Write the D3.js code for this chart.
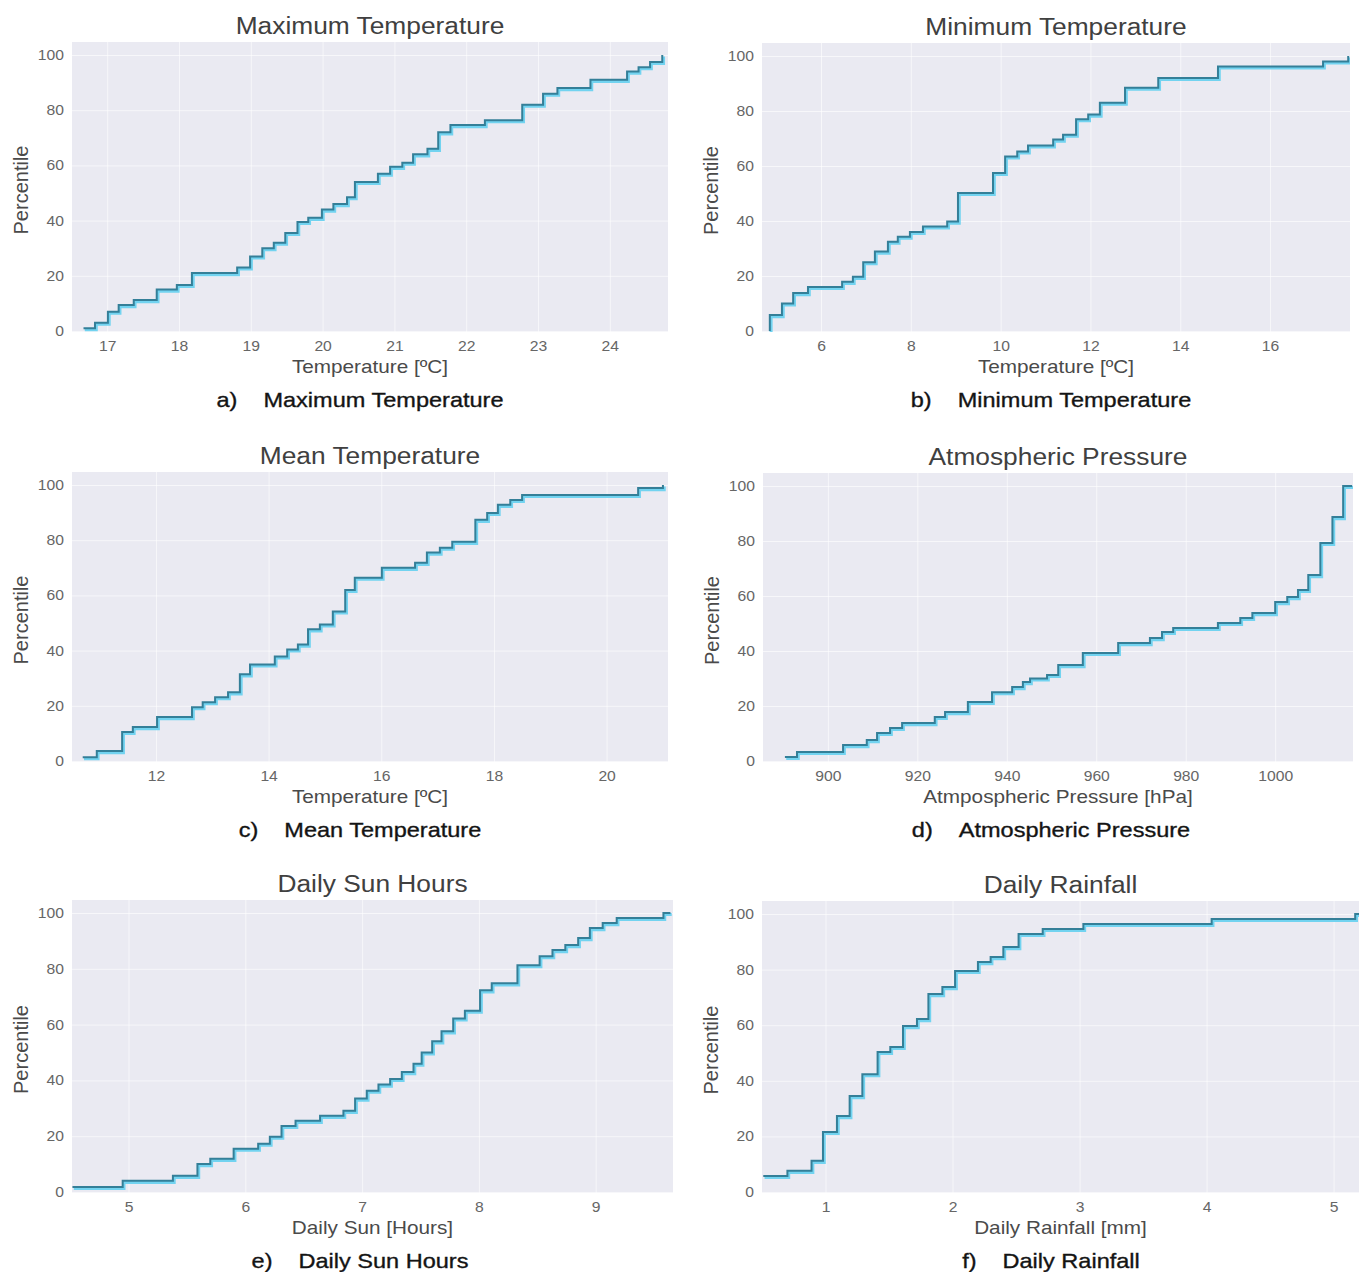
<!DOCTYPE html>
<html>
<head>
<meta charset="utf-8">
<script src="https://cdn.jsdelivr.net/npm/d3@7"></script>
<style>
  html, body { margin: 0; padding: 0; background: #fff; }
  svg { display: block; }
</style>
</head>
<body>
<svg id="chart" width="1359" height="1272"></svg>
<script>
// ---- data: empirical distribution steps (value, cumulative percentile) ----
const percentileTicks = [0, 20, 40, 60, 80, 100];

const maxTempValues = [16.67, 16.83, 17.01, 17.16, 17.37, 17.69, 17.97, 18.18, 18.81, 18.99, 19.16, 19.32, 19.48, 19.65, 19.80, 19.99, 20.15, 20.34, 20.45, 20.77, 20.94, 21.11, 21.26, 21.46, 21.61, 21.78, 22.26, 22.78, 23.07, 23.27, 23.73, 24.24, 24.40, 24.56, 24.73];
const maxTempPercentiles = [1, 3, 7, 9.4, 11.2, 15, 16.7, 21, 23, 27, 30, 32, 35.5, 39.5, 41, 44, 46, 48.5, 54, 57, 59.5, 61, 64, 66, 72, 74.6, 76.4, 82, 86, 88, 91, 94, 95.6, 97.5, 100];
const maxTempTicks = [17, 18, 19, 20, 21, 22, 23, 24];

const minTempValues = [4.86, 4.86, 5.13, 5.38, 5.71, 6.47, 6.71, 6.94, 7.20, 7.49, 7.71, 7.98, 8.27, 8.81, 9.05, 9.83, 10.10, 10.37, 10.61, 11.17, 11.39, 11.68, 11.95, 12.21, 12.77, 13.51, 14.84, 17.18, 17.74];
const minTempPercentiles = [0, 5.8, 10, 13.8, 16, 17.9, 19.7, 25, 28.9, 32.5, 34.3, 36, 38, 39.8, 50.2, 57.5, 63.5, 65.3, 67.5, 69.6, 71.4, 77, 78.7, 83, 88.5, 92, 96.2, 98, 100];
const minTempTicks = [6, 8, 10, 12, 14, 16];

const meanTempValues = [10.70, 10.95, 11.40, 11.59, 12.02, 12.64, 12.83, 13.05, 13.28, 13.49, 13.67, 14.11, 14.33, 14.52, 14.70, 14.91, 15.14, 15.36, 15.53, 16.01, 16.60, 16.81, 17.04, 17.26, 17.67, 17.88, 18.07, 18.29, 18.50, 20.56, 21.0];
const meanTempPercentiles = [1.4, 3.6, 10.5, 12.3, 15.9, 19.5, 21.3, 23.1, 24.9, 31.4, 35, 37.9, 40.4, 42.2, 47.7, 49.5, 54.2, 62, 66.4, 70, 71.8, 75.5, 77.3, 79.4, 87.4, 89.9, 92.8, 94.6, 96.4, 98.9, 100];
const meanTempTicks = [12, 14, 16, 18, 20];

const pressureValues = [890.4, 893.1, 903.4, 908.7, 911.0, 913.9, 916.6, 923.9, 926.2, 931.3, 936.7, 941.2, 943.6, 945.2, 949.0, 951.5, 957.0, 964.9, 972.0, 974.7, 977.2, 987.2, 992.2, 994.9, 1000.0, 1002.7, 1005.1, 1007.4, 1010.1, 1012.8, 1015.2, 1017.2];
const pressurePercentiles = [1.5, 3.3, 5.8, 7.6, 10.2, 12, 13.8, 16, 17.8, 21.5, 25, 26.9, 28.7, 30, 31.3, 34.9, 39.3, 42.9, 44.7, 46.9, 48.4, 50.2, 52, 53.8, 57.8, 59.6, 62.2, 67.6, 79.3, 88.7, 100, 100];
const pressureTicks = [900, 920, 940, 960, 980, 1000];

const sunValues = [4.52, 4.95, 5.38, 5.59, 5.70, 5.90, 6.11, 6.21, 6.31, 6.43, 6.64, 6.84, 6.94, 7.04, 7.14, 7.24, 7.34, 7.44, 7.51, 7.60, 7.68, 7.78, 7.88, 8.01, 8.11, 8.33, 8.52, 8.63, 8.74, 8.85, 8.95, 9.06, 9.18, 9.58, 9.64];
const sunPercentiles = [1.8, 4, 5.8, 10, 11.9, 15.5, 17.3, 19.8, 23.7, 25.5, 27.3, 29.1, 33.5, 36.3, 38.5, 40.5, 43, 46, 50, 54, 57.6, 62.2, 65, 72.3, 74.8, 81.3, 84.5, 86.7, 88.5, 91, 94.6, 96.4, 98.2, 100, 100];
const sunTicks = [5, 6, 7, 8, 9];

const rainValues = [0.51, 0.70, 0.89, 0.98, 1.09, 1.19, 1.29, 1.41, 1.51, 1.61, 1.72, 1.81, 1.92, 2.02, 2.20, 2.30, 2.40, 2.52, 2.71, 3.03, 4.04, 5.17, 5.2];
const rainPercentiles = [5.8, 7.6, 11.2, 21.6, 27.3, 34.5, 42.4, 50.4, 52.2, 59.7, 62.2, 71.2, 73.7, 79.5, 82.7, 84.5, 88.1, 92.8, 94.6, 96.4, 98.2, 100, 100];
const rainTicks = [1, 2, 3, 4, 5];

// ---- layout of the six panels ----
const panels = [
  { tag: "a)", title: "Maximum Temperature", xLabel: "Temperature [ºC]", values: maxTempValues, pct: maxTempPercentiles, ticks: maxTempTicks, xDomain: [16.51, 24.81], box: [72, 42, 668, 332], capCenter: 360 },
  { tag: "b)", title: "Minimum Temperature", xLabel: "Temperature [ºC]", values: minTempValues, pct: minTempPercentiles, ticks: minTempTicks, xDomain: [4.686, 17.78], box: [762, 43, 1350, 332], capCenter: 1051 },
  { tag: "c)", title: "Mean Temperature", xLabel: "Temperature [ºC]", values: meanTempValues, pct: meanTempPercentiles, ticks: meanTempTicks, xDomain: [10.51, 21.09], box: [72, 472, 668, 762], capCenter: 360 },
  { tag: "d)", title: "Atmospheric Pressure", xLabel: "Atmpospheric Pressure [hPa]", values: pressureValues, pct: pressurePercentiles, ticks: pressureTicks, xDomain: [885.5, 1017.4], box: [763, 473, 1353, 762], capCenter: 1051 },
  { tag: "e)", title: "Daily Sun Hours", xLabel: "Daily Sun [Hours]", values: sunValues, pct: sunPercentiles, ticks: sunTicks, xDomain: [4.516, 9.662], box: [72, 900, 673, 1193], capCenter: 360 },
  { tag: "f)", title: "Daily Rainfall", xLabel: "Daily Rainfall [mm]", values: rainValues, pct: rainPercentiles, ticks: rainTicks, xDomain: [0.5, 5.2], box: [762, 901, 1359, 1193], capCenter: 1051 }
];

const FONT = "'Liberation Sans', Arial, Helvetica, sans-serif";
const WIDEN = 1.12;   // horizontal widening applied to the lettering

function widen(sel, k) {
  sel.each(function () {
    const len = this.getComputedTextLength();
    d3.select(this).attr("textLength", len * k).attr("lengthAdjust", "spacingAndGlyphs");
  });
}

const svg = d3.select("#chart");
svg.append("rect").attr("width", 1359).attr("height", 1272).attr("fill", "#ffffff");

panels.forEach((p, i) => {
  const [x0, y0, x1, y1] = p.box;
  const w = x1 - x0, h = y1 - y0;
  const g = svg.append("g").attr("transform", `translate(${x0},${y0})`);

  const x = d3.scaleLinear().domain(p.xDomain).range([0, w]);
  const y = d3.scaleLinear().domain([0, 100]).range([h - 1, 13]);

  // plot background
  g.append("rect").attr("width", w).attr("height", h).attr("fill", "#eaeaf2");

  // grid + tick labels through d3 axes
  const gx = g.append("g").attr("transform", `translate(0,${h})`)
    .call(d3.axisBottom(x).tickValues(p.ticks).tickSize(-h).tickPadding(9).tickFormat(d3.format("d")));
  const gy = g.append("g")
    .call(d3.axisLeft(y).tickValues(percentileTicks).tickSize(-w).tickPadding(8).tickFormat(d3.format("d")));
  [gx, gy].forEach(ax => {
    ax.select(".domain").remove();
    ax.selectAll(".tick line").attr("stroke", "#ffffff").attr("stroke-width", 1).attr("opacity", 0.6);
    ax.selectAll(".tick text")
      .attr("fill", "#666")
      .style("font-family", FONT)
      .style("font-size", "14px");
  });
  widen(gx.selectAll(".tick text"), WIDEN);
  widen(gy.selectAll(".tick text"), WIDEN);

  // step curve
  const clipId = `clip-${i}`;
  g.append("clipPath").attr("id", clipId)
    .append("rect").attr("width", w).attr("height", h);
  const pts = p.values.map((v, k) => [v, p.pct[k]]);
  const line = d3.line().x(d => x(d[0])).y(d => y(d[1])).curve(d3.curveStepAfter);
  const lg = g.append("g").attr("clip-path", `url(#${clipId})`);
  lg.append("path").datum(pts)
    .attr("d", line)
    .attr("transform", "translate(1.3,1.6)")
    .attr("fill", "none").attr("stroke", "#72d3f0").attr("stroke-width", 3)
    .attr("stroke-linejoin", "miter");
  lg.append("path").datum(pts)
    .attr("d", line)
    .attr("fill", "none").attr("stroke", "#347f98").attr("stroke-width", 2)
    .attr("stroke-linejoin", "miter");

  // title above the plot
  const t = g.append("text")
    .attr("x", w / 2).attr("y", -8)
    .attr("text-anchor", "middle")
    .attr("fill", "#404040")
    .style("font-family", FONT).style("font-size", "23.5px")
    .text(p.title);
  widen(t, WIDEN);

  // x axis label
  const xl = g.append("text")
    .attr("x", w / 2).attr("y", h + 41)
    .attr("text-anchor", "middle")
    .attr("fill", "#4a4a4a")
    .style("font-family", FONT).style("font-size", "18.5px")
    .text(p.xLabel);
  widen(xl, WIDEN);

  // y axis label
  g.append("text")
    .attr("transform", `translate(${-51},${(h) / 2 + 3}) rotate(-90)`)
    .attr("text-anchor", "middle")
    .attr("dy", "0.35em")
    .attr("fill", "#4a4a4a")
    .style("font-family", FONT).style("font-size", "20px")
    .text("Percentile");

  // caption below the panel
  const capY = y1 + 75;
  const capStyle = s => s.attr("y", capY).attr("fill", "#141414")
    .attr("stroke", "#141414").attr("stroke-width", 0.35)
    .style("font-family", FONT).style("font-size", "21px");
  const tag = svg.append("text").call(capStyle).text(p.tag);
  const cap = svg.append("text").call(capStyle).text(p.title);
  widen(tag, WIDEN);
  widen(cap, WIDEN);
  const tagW = +tag.attr("textLength");
  const capW = +cap.attr("textLength");
  const gap = 26;
  const start = p.capCenter - (tagW + gap + capW) / 2;
  tag.attr("x", start);
  cap.attr("x", start + tagW + gap);
});
</script>
</body>
</html>
